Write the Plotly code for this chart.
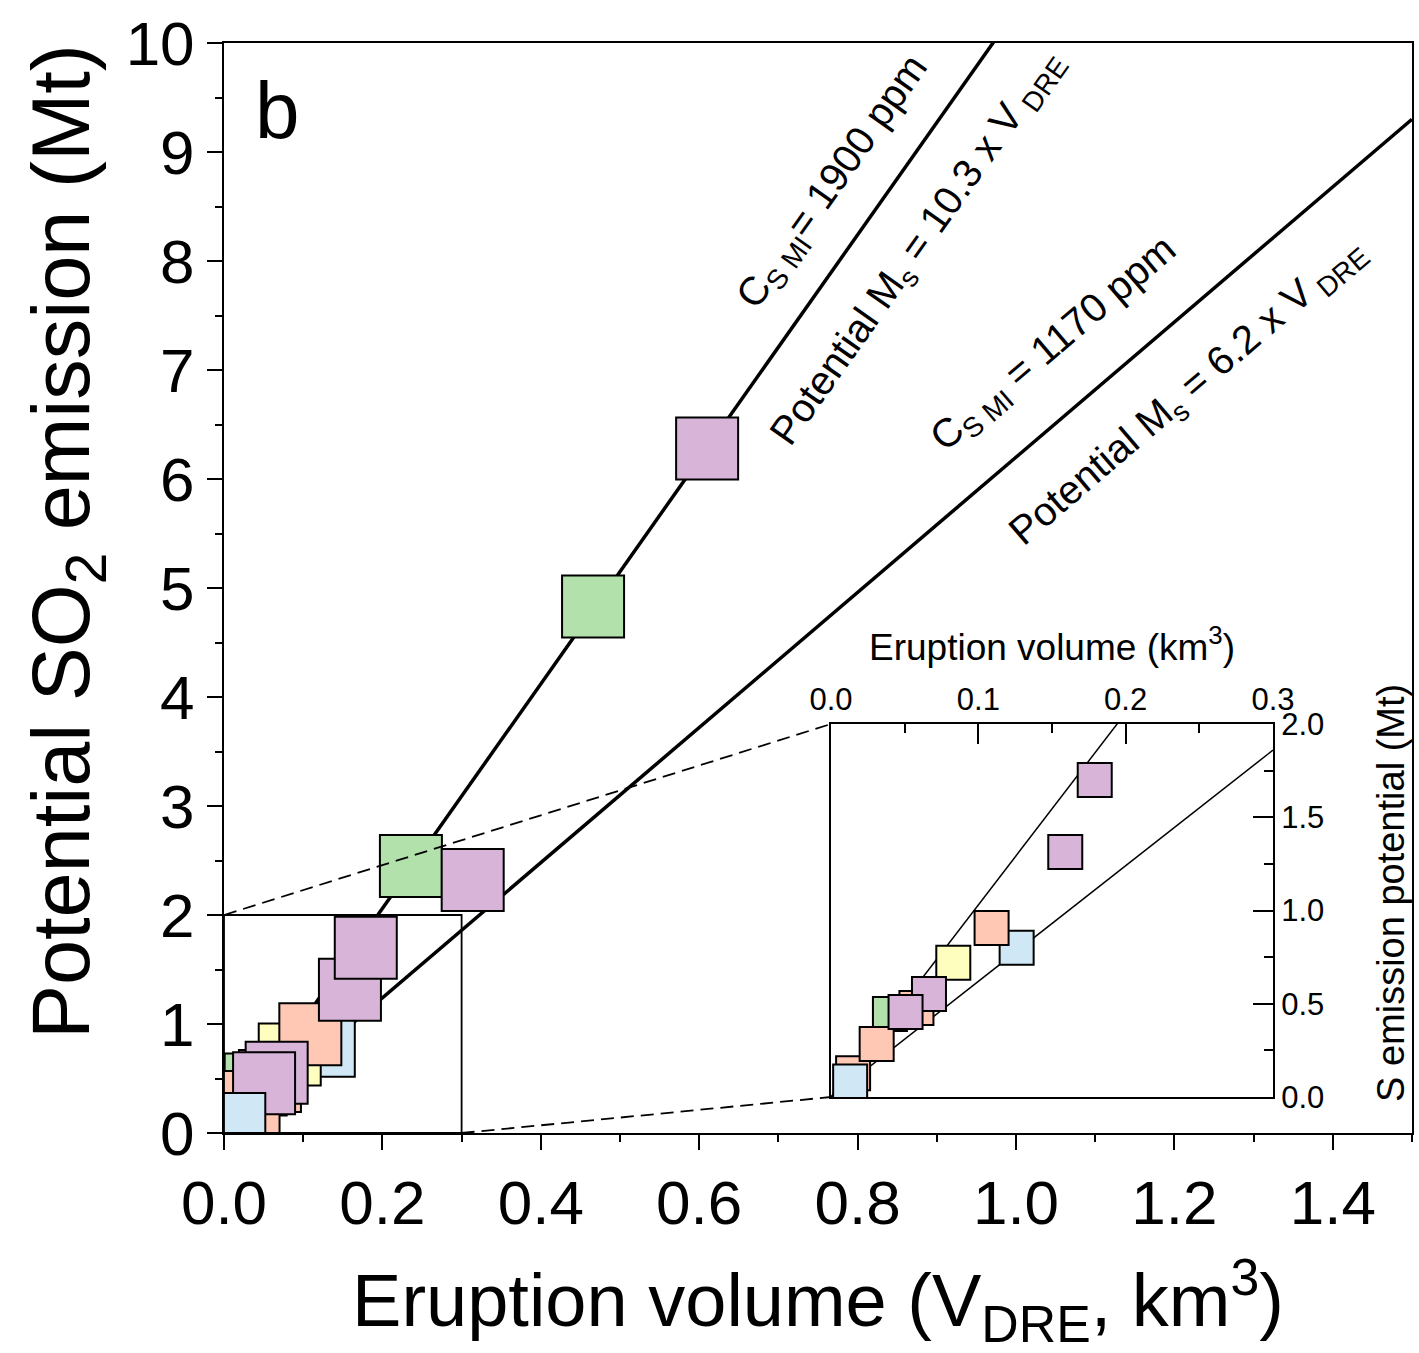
import plotly.graph_objects as go

# ---------------- data ----------------
volume = [0.126, 0.083, 0.109, 0.159, 0.179, 0.040, 0.015, 0.031, 0.058, 0.0665, 0.0506, 0.013,
          0.236, 0.314, 0.466, 0.610]
so2 = [0.80, 0.72, 0.906, 1.314, 1.70, 0.445, 0.128, 0.284, 0.477, 0.552, 0.456, 0.083,
       2.45, 2.32, 4.83, 6.28]
group = ["E", "D", "C", "A", "A", "B", "C", "C", "C", "A", "A", "E",
         "B", "A", "B", "A"]

slopes = [10.3, 6.2]                      # potential Ms = k x V_DRE
slope_labels_top = ["C<sub>S MI</sub>= 1900 ppm", "C<sub>S MI</sub> = 1170 ppm"]
slope_labels_bottom = ["Potential M<sub>s</sub> = 10.3 x V<sub> DRE</sub>",
                       "Potential M<sub>s</sub> = 6.2 x V<sub> DRE</sub>"]

main_xrange = [0, 1.5]
main_yrange = [0, 10]
inset_xrange = [0, 0.3]
inset_yrange = [0, 2.0]

y_title = "Potential SO<sub>2</sub> emission (Mt)"
x_title = "Eruption volume (V<sub>DRE</sub>, km<sup>3</sup>)"
inset_x_title = "Eruption volume (km<sup>3</sup>)"
inset_y_title = "S emission potential (Mt)"

# ---------------- styles ----------------
group_colors = {"A": "#D8B5D8", "B": "#B3E1AC", "C": "#FFC8B4", "D": "#FEFEBE", "E": "#D0E8F6"}
FONT = "Liberation Sans, Arial, sans-serif"
W, H = 1419, 1353
ML, MR, MT, MB = 224, 7, 43, 220
plot_w = W - ML - MR
plot_h = H - MT - MB

def px2paper_x(px):
    return (px - ML) / plot_w

def px2paper_y(py):
    return (H - MB - py) / plot_h

inset_dom_x = [px2paper_x(831), px2paper_x(1273)]
inset_dom_y = [px2paper_y(1097), px2paper_y(724)]

colors = [group_colors[g] for g in group]

fig = go.Figure()

# regression lines (main)
for k in slopes:
    xs = [main_xrange[0], main_xrange[1]]
    fig.add_trace(go.Scatter(x=xs, y=[k * v for v in xs], mode="lines",
                             line=dict(color="black", width=3.5),
                             xaxis="x", yaxis="y", showlegend=False, hoverinfo="skip"))
# regression lines (inset)
for k in slopes:
    xs = [inset_xrange[0], inset_xrange[1]]
    fig.add_trace(go.Scatter(x=xs, y=[k * v for v in xs], mode="lines",
                             line=dict(color="black", width=1.5),
                             xaxis="x2", yaxis="y2", showlegend=False, hoverinfo="skip"))

# main markers
fig.add_trace(go.Scatter(x=volume, y=so2, mode="markers",
                         marker=dict(symbol="square", size=62, color=colors,
                                     line=dict(color="black", width=2)),
                         xaxis="x", yaxis="y", showlegend=False))

# inset markers
ix = [v for v, s in zip(volume, so2) if v <= inset_xrange[1] and s <= inset_yrange[1]]
iy = [s for v, s in zip(volume, so2) if v <= inset_xrange[1] and s <= inset_yrange[1]]
ic = [c for v, s, c in zip(volume, so2, colors) if v <= inset_xrange[1] and s <= inset_yrange[1]]
fig.add_trace(go.Scatter(x=ix, y=iy, mode="markers",
                         marker=dict(symbol="square", size=34, color=ic,
                                     line=dict(color="black", width=2)),
                         xaxis="x2", yaxis="y2", showlegend=False))

# zoom rectangle on main plot
fig.add_shape(type="rect", xref="x", yref="y",
              x0=inset_xrange[0], x1=inset_xrange[1], y0=inset_yrange[0], y1=inset_yrange[1],
              line=dict(color="black", width=1.8), layer="above")
# dashed connectors
fig.add_shape(type="line", xref="paper", yref="paper",
              x0=0, y0=inset_yrange[1] / main_yrange[1],
              x1=inset_dom_x[0], y1=inset_dom_y[1],
              line=dict(color="black", width=1.8, dash="13px,7px"))
fig.add_shape(type="line", xref="paper", yref="paper",
              x0=inset_xrange[1] / main_xrange[1], y0=0,
              x1=inset_dom_x[0], y1=inset_dom_y[0],
              line=dict(color="black", width=1.8, dash="13px,7px"))

# line annotations
ann_pos_top = [(0.769, 8.72, -54.8), (1.048, 7.23, -40.5)]
ann_pos_bot = [(0.876, 8.12, -54.8), (1.217, 6.80, -40.5)]
for (x, y, a), t in zip(ann_pos_top, slope_labels_top):
    fig.add_annotation(x=x, y=y, xref="x", yref="y", text=t, textangle=a, showarrow=False,
                       font=dict(family=FONT, size=40, color="black"),
                       xanchor="center", yanchor="middle")
for (x, y, a), t in zip(ann_pos_bot, slope_labels_bottom):
    fig.add_annotation(x=x, y=y, xref="x", yref="y", text=t, textangle=a, showarrow=False,
                       font=dict(family=FONT, size=40, color="black"),
                       xanchor="center", yanchor="middle")

# panel label
fig.add_annotation(x=px2paper_x(277), y=px2paper_y(110), xref="paper", yref="paper",
                   text="b", showarrow=False, font=dict(family=FONT, size=80, color="black"),
                   xanchor="center", yanchor="middle")

# main y-axis title (placed as in the reference, slightly above centre)
fig.add_annotation(x=px2paper_x(67), y=px2paper_y(542), xref="paper", yref="paper",
                   text=y_title, textangle=-90, showarrow=False,
                   font=dict(family=FONT, size=81, color="black"),
                   xanchor="center", yanchor="middle")

# inset right-axis title
fig.add_annotation(x=px2paper_x(1391), y=px2paper_y(893), xref="paper", yref="paper",
                   text=inset_y_title, textangle=-90, showarrow=False,
                   font=dict(family=FONT, size=38, color="black"),
                   xanchor="center", yanchor="middle")

fig.update_layout(
    width=W, height=H,
    margin=dict(l=ML, r=MR, t=MT, b=MB, autoexpand=False),
    paper_bgcolor="white", plot_bgcolor="rgba(0,0,0,0)",
    font=dict(family=FONT, color="black"),
    xaxis=dict(domain=[0, 1], range=main_xrange, dtick=0.2, tick0=0, tickformat=".1f",
               automargin=False,
               ticks="outside", ticklen=15, tickwidth=2, tickcolor="black",
               minor=dict(dtick=0.1, ticks="outside", ticklen=7, tickwidth=2, tickcolor="black"),
               showline=True, linewidth=2, linecolor="black", mirror=True,
               showgrid=False, zeroline=False,
               tickfont=dict(size=62, family=FONT),
               title=dict(text=x_title, font=dict(size=74, family=FONT), standoff=48)),
    yaxis=dict(domain=[0, 1], range=main_yrange, dtick=1, tick0=0,
               automargin=False,
               ticks="outside", ticklen=15, tickwidth=2, tickcolor="black",
               minor=dict(dtick=0.5, ticks="outside", ticklen=7, tickwidth=2, tickcolor="black"),
               showline=True, linewidth=2, linecolor="black", mirror=True,
               showgrid=False, zeroline=False,
               tickfont=dict(size=62, family=FONT)),
    xaxis2=dict(domain=inset_dom_x, anchor="y2", side="top", range=inset_xrange,
                dtick=0.1, tick0=0, tickformat=".1f", automargin=False,
                ticks="inside", ticklen=20, tickwidth=2, tickcolor="black",
                minor=dict(dtick=0.05, ticks="inside", ticklen=9, tickwidth=2, tickcolor="black"),
                showline=True, linewidth=2, linecolor="black", mirror=True,
                showgrid=False, zeroline=False,
                tickfont=dict(size=31, family=FONT),
                title=dict(text=inset_x_title, font=dict(size=37, family=FONT), standoff=10)),
    yaxis2=dict(domain=inset_dom_y, anchor="x2", side="right", range=inset_yrange,
                dtick=0.5, tick0=0, tickformat=".1f", automargin=False,
                ticks="inside", ticklen=20, tickwidth=2, tickcolor="black",
                minor=dict(dtick=0.25, ticks="inside", ticklen=9, tickwidth=2, tickcolor="black"),
                showline=True, linewidth=2, linecolor="black", mirror=True,
                showgrid=False, zeroline=False,
                tickfont=dict(size=31, family=FONT)),
)

fig.write_html("out.html")
